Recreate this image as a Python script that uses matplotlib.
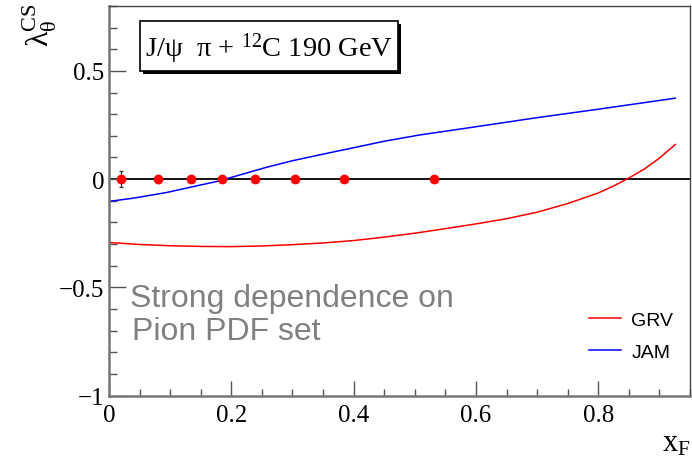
import numpy as np
import matplotlib
matplotlib.use('Agg')
import matplotlib.pyplot as plt
from matplotlib.patches import Rectangle
from matplotlib.ticker import MultipleLocator

plt.rcParams['mathtext.fontset'] = 'custom'
plt.rcParams['mathtext.rm'] = 'Liberation Serif'
plt.rcParams['mathtext.it'] = 'Liberation Serif:italic'

# measured points (all compatible with zero)
x_data = [0.02, 0.08, 0.134, 0.185, 0.238, 0.304, 0.385, 0.531]
y_data = [0.0, 0.0, 0.0, 0.0, 0.0, 0.0, 0.0, 0.0]
y_err = [0.036, 0.02, 0.01, 0.01, 0.01, 0.01, 0.01, 0.01]

# model curves, GRV and JAM pion PDFs
x_grv = [0.0, 0.05, 0.1, 0.15, 0.2, 0.25, 0.3, 0.35, 0.4, 0.45, 0.5, 0.55, 0.6,
         0.65, 0.7, 0.75, 0.8, 0.825, 0.85, 0.875, 0.9, 0.926]
y_grv = [-0.293, -0.302, -0.308, -0.311, -0.312, -0.309, -0.303, -0.295, -0.284,
         -0.268, -0.250, -0.229, -0.207, -0.183, -0.153, -0.113, -0.064, -0.032,
         0.005, 0.046, 0.097, 0.160]

x_jam = [0.0, 0.04, 0.094, 0.15, 0.181, 0.2, 0.258, 0.3, 0.366, 0.4, 0.45, 0.508,
         0.6, 0.7, 0.8, 0.926]
y_jam = [-0.103, -0.088, -0.062, -0.027, -0.008, 0.008, 0.055, 0.085, 0.125,
         0.145, 0.175, 0.204, 0.242, 0.284, 0.323, 0.374]

fig = plt.figure(figsize=(6.92, 4.6), dpi=100)
ax = fig.add_axes([109/692, 1 - 396.5/460, 581/692, 389.5/460])

ax.axhline(0, color='black', lw=1.3, zorder=1)
ax.plot(x_grv, y_grv, color='#ff0000', lw=1.1, label='GRV', zorder=2)
ax.plot(x_jam, y_jam, color='#0000ff', lw=1.1, label='JAM', zorder=2)
ax.errorbar(x_data, y_data, yerr=y_err, fmt='o', color='#ff0000', ms=6,
            ecolor='#333333', elinewidth=0.9, capsize=1.5, capthick=0.9, zorder=3)

ax.set_xlim(0, 0.95)
ax.set_ylim(-1, 0.8)
ax.xaxis.set_minor_locator(MultipleLocator(0.05))
ax.yaxis.set_minor_locator(MultipleLocator(0.1))
ax.set_xticks([0, 0.2, 0.4, 0.6, 0.8])
ax.set_xticklabels(['0', '0.2', '0.4', '0.6', '0.8'])
ax.set_yticks([-1, -0.5, 0, 0.5])
ax.set_yticklabels(['\u22121', '\u22120.5', '0', '0.5'])
ax.tick_params(which='both', direction='in', top=False, right=False,
               color='#555555', width=1.0)
ax.tick_params(axis='y', which='major', length=12, pad=3.5)
ax.tick_params(axis='y', which='minor', length=6)
ax.tick_params(axis='x', which='major', length=11, pad=6)
ax.tick_params(axis='x', which='minor', length=5)
for lab in ax.get_xticklabels() + ax.get_yticklabels():
    lab.set_fontfamily('Liberation Serif')
    lab.set_fontsize(18)
for side in ['left', 'bottom']:
    ax.spines[side].set_linewidth(1.8)
    ax.spines[side].set_color('#777777')
for side in ['top', 'right']:
    ax.spines[side].set_linewidth(1.0)
    ax.spines[side].set_color('#444444')

# axis titles, ROOT style
fig.text(40/692, 1 - 3/460, '$\\mathrm{λ}_{\\mathrm{θ}}^{\\mathrm{CS}}$',
         rotation=90, ha='center', va='top', fontsize=23)
fig.text(691/692, 1 - 452/460, '$\\mathrm{x}_{\\mathrm{F}}$',
         ha='right', va='baseline', fontsize=22)

# title box with shadow
fig.patches.append(Rectangle((143/692, 1 - 75/460), 258/692, 50/460,
                             transform=fig.transFigure, facecolor='black',
                             edgecolor='none', zorder=4))
fig.patches.append(Rectangle((140/692, 1 - 72/460), 258/692, 50/460,
                             transform=fig.transFigure, facecolor='white',
                             edgecolor='black', lw=1.2, zorder=5))
fig.text(145/692, 1 - 57/460, 'J/ψ  π + $^{12}$C 190 GeV',
         family='Liberation Serif', fontsize=20.5, va='baseline', zorder=6)

ax.text(130/692, 1 - 307/460, 'Strong dependence on', transform=fig.transFigure,
        family='Liberation Sans', fontsize=23, color='#808080', va='baseline')
ax.text(132/692, 1 - 340/460, 'Pion PDF set', transform=fig.transFigure,
        family='Liberation Sans', fontsize=23, color='#808080', va='baseline')

leg = ax.legend(loc='upper left', bbox_to_anchor=(0.827, 0.216), frameon=False,
                prop={'family': 'Liberation Sans', 'size': 14},
                handlelength=1.6, handletextpad=0.55, labelspacing=0.75,
                borderpad=0, borderaxespad=0)

fig.savefig('out.png', dpi=100)
